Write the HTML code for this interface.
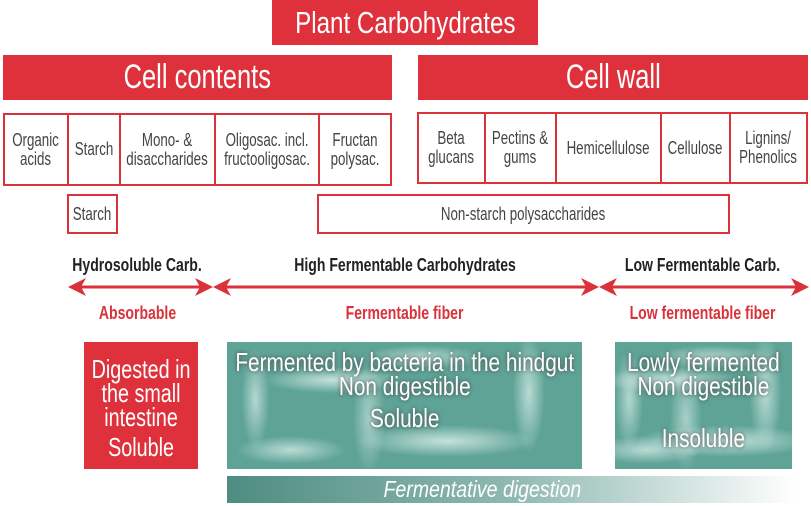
<!DOCTYPE html>
<html><head><meta charset="utf-8"><style>
body{margin:0;width:811px;height:506px;background:#fff;position:relative;overflow:hidden;font-family:"Liberation Sans",sans-serif;}
.a{position:absolute;box-sizing:border-box;display:flex;align-items:center;justify-content:center;text-align:center;}
.n{display:inline-block;transform:scaleX(.78);white-space:nowrap;}
.r{background:#df313b;color:#fff;}
.b{border:2.5px solid #d9323a;color:#444;font-size:18px;line-height:19px;background:#fff;}
.b .n{transform:scaleX(.74);}
.h{color:#222;font-size:18px;font-weight:bold;}
.rl{color:#d9323a;font-size:18px;font-weight:bold;}
.t{background:
radial-gradient(ellipse 70px 13px at 30% 30%,rgba(215,238,232,.85),transparent),
radial-gradient(ellipse 90px 16px at 62% 78%,rgba(215,238,232,.85),transparent),
radial-gradient(ellipse 16px 60px at 85% 40%,rgba(215,238,232,.75),transparent),
radial-gradient(ellipse 55px 14px at 18% 85%,rgba(215,238,232,.75),transparent),
radial-gradient(ellipse 14px 50px at 8% 45%,rgba(215,238,232,.7),transparent),
radial-gradient(ellipse 60px 12px at 55% 12%,rgba(215,238,232,.7),transparent),
radial-gradient(ellipse 16px 55px at 40% 60%,rgba(215,238,232,.6),transparent),
#5fa397;color:#fff;font-size:26px;line-height:24px;text-shadow:0 0 5px #444;}
</style></head><body>
<div class="a r" style="left:272px;top:0;width:266px;height:45px;font-size:31px;"><span class="n">Plant Carbohydrates</span></div>
<div class="a r" style="left:3px;top:55px;width:389px;height:45px;font-size:34px;"><span class="n" style="transform:scaleX(.75)">Cell contents</span></div>
<div class="a r" style="left:418px;top:55px;width:390px;height:45px;font-size:34px;"><span class="n" style="transform:scaleX(.75)">Cell wall</span></div>

<div class="a b" style="left:3px;top:113px;width:66px;height:73px;"><span class="n">Organic<br>acids</span></div>
<div class="a b" style="left:67px;top:113px;width:54px;height:73px;"><span class="n">Starch</span></div>
<div class="a b" style="left:119px;top:113px;width:97px;height:73px;"><span class="n">Mono- &amp;<br>disaccharides</span></div>
<div class="a b" style="left:214px;top:113px;width:106px;height:73px;"><span class="n">Oligosac. incl.<br>fructooligosac.</span></div>
<div class="a b" style="left:318px;top:113px;width:74px;height:73px;"><span class="n">Fructan<br>polysac.</span></div>

<div class="a b" style="left:417px;top:112px;width:69px;height:72px;"><span class="n">Beta<br>glucans</span></div>
<div class="a b" style="left:484px;top:112px;width:73px;height:72px;"><span class="n">Pectins &amp;<br>gums</span></div>
<div class="a b" style="left:555px;top:112px;width:107px;height:72px;"><span class="n">Hemicellulose</span></div>
<div class="a b" style="left:660px;top:112px;width:71px;height:72px;"><span class="n">Cellulose</span></div>
<div class="a b" style="left:729px;top:112px;width:79px;height:72px;"><span class="n">Lignins/<br>Phenolics</span></div>

<div class="a b" style="left:67px;top:194px;width:51px;height:40px;"><span class="n">Starch</span></div>
<div class="a b" style="left:317px;top:194px;width:413px;height:40px;"><span class="n">Non-starch polysaccharides</span></div>

<div class="a h" style="left:60px;top:255px;width:155px;height:20px;"><span class="n">Hydrosoluble Carb.</span></div>
<div class="a h" style="left:212px;top:255px;width:386px;height:20px;"><span class="n">High Fermentable Carbohydrates</span></div>
<div class="a h" style="left:598px;top:255px;width:210px;height:20px;"><span class="n">Low Fermentable Carb.</span></div>

<svg style="position:absolute;left:0;top:0" width="811" height="506">
<g stroke="#d9323a" stroke-width="3">
<line x1="76" y1="287" x2="206" y2="287"/><line x1="220" y1="287" x2="592" y2="287"/><line x1="606" y1="287" x2="802" y2="287"/>
</g>
<g fill="#d9323a">
<polygon points="68,287 86,278 81,287 86,296"/><polygon points="213,287 195,278 200,287 195,296"/>
<polygon points="213,287 231,278 226,287 231,296"/><polygon points="599,287 581,278 586,287 581,296"/>
<polygon points="599,287 617,278 612,287 617,296"/><polygon points="809,287 791,278 796,287 791,296"/>
</g>
<defs><linearGradient id="g" x1="0" x2="1"><stop offset="0" stop-color="#4e8d82"/><stop offset="0.5" stop-color="#8fb9b1"/><stop offset="1" stop-color="#fff"/></linearGradient></defs>
<rect x="227" y="476" width="570" height="27" fill="url(#g)"/>
</svg>

<div class="a rl" style="left:60px;top:303px;width:155px;height:20px;"><span class="n">Absorbable</span></div>
<div class="a rl" style="left:212px;top:303px;width:386px;height:20px;"><span class="n">Fermentable fiber</span></div>
<div class="a rl" style="left:598px;top:303px;width:210px;height:20px;"><span class="n">Low fermentable fiber</span></div>

<div class="a r" style="left:84px;top:342px;width:114px;height:127px;font-size:26px;line-height:24px;padding-top:4px;"><span class="n" style="transform:scaleX(.76)">Digested in<br>the small<br>intestine<br><span style="display:inline-block;margin-top:6px">Soluble</span></span></div>
<div class="a t" style="left:227px;top:342px;width:355px;height:127px;align-items:flex-start;padding-top:8px;"><span class="n" style="transform:scaleX(.8)">Fermented by bacteria in the hindgut<br>Non digestible<br><span style="display:inline-block;margin-top:8px">Soluble</span></span></div>
<div class="a t" style="left:615px;top:342px;width:177px;height:127px;align-items:flex-start;padding-top:8px;"><span class="n" style="transform:scaleX(.8)">Lowly fermented<br>Non digestible<br><span style="display:inline-block;margin-top:28px">Insoluble</span></span></div>
<div class="a" style="left:227px;top:476px;width:510px;height:27px;color:#fff;font-size:23px;font-style:italic;"><span class="n" style="transform:scaleX(.85)">Fermentative digestion</span></div>
</body></html>
